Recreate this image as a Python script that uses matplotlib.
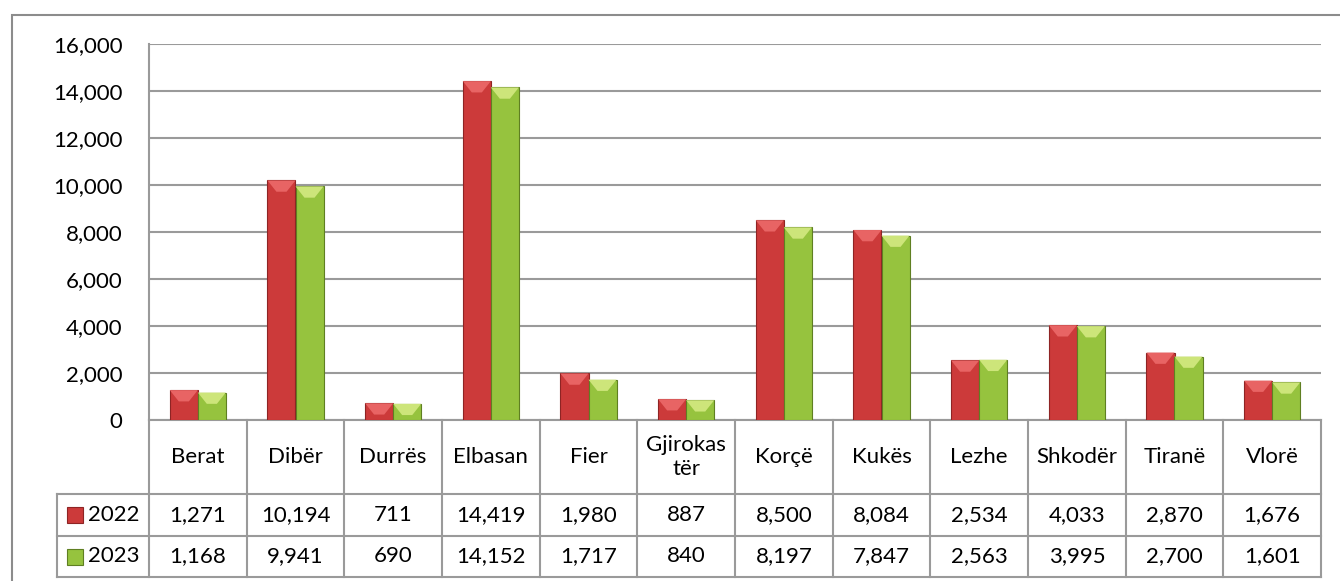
import numpy as np
import matplotlib
matplotlib.use("Agg")
import matplotlib.pyplot as plt
from matplotlib.patches import Rectangle, Polygon
from matplotlib.ticker import FuncFormatter

plt.rcParams['font.family'] = ['Lato', 'DejaVu Sans']

# data
districts = ["Berat", "Dibër", "Durrës", "Elbasan", "Fier", "Gjirokas\ntër",
             "Korçë", "Kukës", "Lezhe", "Shkodër", "Tiranë", "Vlorë"]
years = ["2022", "2023"]
v2022 = [1271, 10194, 711, 14419, 1980, 887, 8500, 8084, 2534, 4033, 2870, 1676]
v2023 = [1168, 9941, 690, 14152, 1717, 840, 8197, 7847, 2563, 3995, 2700, 1601]

RED, RED_EDGE, RED_TOP = "#CC3A3A", "#8E2424", "#E86464"
GREEN, GREEN_EDGE, GREEN_TOP = "#96C33E", "#5F7F22", "#CDE57A"
LINE = "#9A9A9A"
FS = 16

W, H = 1340, 581
fig = plt.figure(figsize=(W / 100, H / 100), dpi=100)
ax = fig.add_axes([149 / W, 161 / H, 1172 / W, 376 / H])

x = np.arange(len(districts))
w = 0.287
b1 = ax.bar(x - w / 2, v2022, w, color=RED, edgecolor=RED_EDGE, linewidth=0.8, zorder=3)
b2 = ax.bar(x + w / 2, v2023, w, color=GREEN, edgecolor=GREEN_EDGE, linewidth=0.8, zorder=3)

# bevel on top of each bar
bev = 480
for bars, top in [(b1, RED_TOP), (b2, GREEN_TOP)]:
    for p in bars.patches:
        x0, wd, h = p.get_x(), p.get_width(), p.get_height()
        d = min(bev, h * 0.8)
        ax.add_patch(Polygon([(x0, h), (x0 + wd, h), (x0 + wd * 0.68, h - d),
                              (x0 + wd * 0.32, h - d)], closed=True,
                             facecolor=top, edgecolor="none", zorder=4))

ax.set_xlim(-0.5, len(districts) - 0.5)
ax.set_ylim(0, 16000)
ax.set_yticks(range(0, 16001, 2000))
ax.yaxis.set_major_formatter(FuncFormatter(lambda v, p: f"{int(v):,}"))
ax.set_xticks([])
ax.tick_params(axis='y', length=0, pad=19, labelsize=FS)
ax.yaxis.grid(True, color=LINE, linewidth=1.5)
ax.set_axisbelow(True)
for s in ["top", "right"]:
    ax.spines[s].set_visible(False)
for s in ["left", "bottom"]:
    ax.spines[s].set_color(LINE)
    ax.spines[s].set_linewidth(1.5)

# data table under the axis
n = len(districts)
r0, r1, r2, r3 = 0, -74 / 376, -116 / 376, -157 / 376
xl = -92 / 1172
kw = dict(transform=ax.transAxes, clip_on=False, color=LINE, linewidth=1.5)
for yy in [r1, r2, r3]:
    ax.plot([xl, 1], [yy, yy], **kw)
for i in range(n + 1):
    ax.plot([i / n, i / n], [r0, r3], **kw)
ax.plot([xl, xl], [r1, r3], **kw)

for i, name in enumerate(districts):
    cx = (i + 0.5) / n
    ax.text(cx, (r0 + r1) / 2, name, transform=ax.transAxes, ha="center", va="center",
            fontsize=FS, linespacing=1.3)
    ax.text(cx, (r1 + r2) / 2, f"{v2022[i]:,}", transform=ax.transAxes,
            ha="center", va="center", fontsize=FS)
    ax.text(cx, (r2 + r3) / 2, f"{v2023[i]:,}", transform=ax.transAxes,
            ha="center", va="center", fontsize=FS)

for yr, (ry0, ry1), fc, ec in [(years[0], (r1, r2), RED, RED_EDGE),
                               (years[1], (r2, r3), GREEN, GREEN_EDGE)]:
    ym = (ry0 + ry1) / 2
    ax.plot([-74.5 / 1172], [ym], marker="s", markersize=11.5, markerfacecolor=fc,
            markeredgecolor=ec, markeredgewidth=0.8, transform=ax.transAxes, clip_on=False)
    ax.text(-61 / 1172, ym, yr, transform=ax.transAxes, ha="left", va="center", fontsize=FS)

# outer chart border
fig.add_artist(Rectangle((12 / W, -0.05), 1.1, 566 / H + 0.05, transform=fig.transFigure,
                         fill=False, edgecolor="#8C8C8C", linewidth=1.5))

fig.savefig("out.png", dpi=100)
